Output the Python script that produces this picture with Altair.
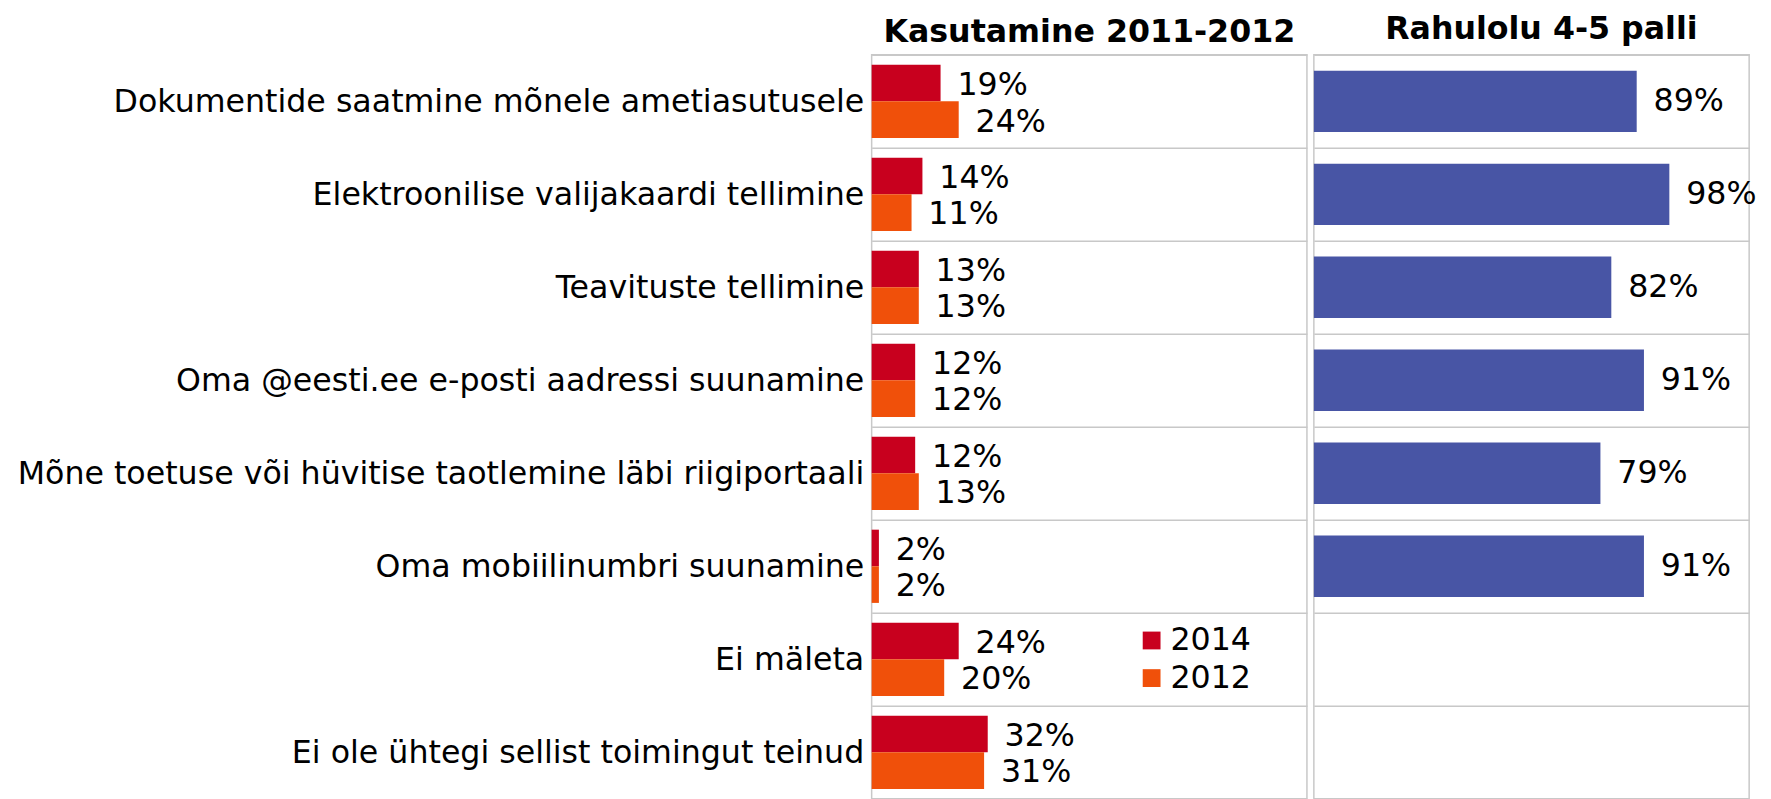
import altair as alt
import pandas as pd

categories = [
    "Dokumentide saatmine mõnele ametiasutusele",
    "Elektroonilise valijakaardi tellimine",
    "Teavituste tellimine",
    "Oma @eesti.ee e-posti aadressi suunamine",
    "Mõne toetuse või hüvitise taotlemine läbi riigiportaali",
    "Oma mobiilinumbri suunamine",
    "Ei mäleta",
    "Ei ole ühtegi sellist toimingut teinud",
]
use_2014 = [19, 14, 13, 12, 12, 2, 24, 32]
use_2012 = [24, 11, 13, 12, 13, 2, 20, 31]
satisfaction = [89, 98, 82, 91, 79, 91, None, None]
years = ["2014", "2012"]
year_colors = ["#C8001E", "#F0500A"]
sat_color = "#4855A5"

FONT = "DejaVu Sans"
FS = 32
W = 440
H = 752
GRID = "#c8c8c8"

rows = []
for c, a, b in zip(categories, use_2014, use_2012):
    rows.append({"cat": c, "year": "2014", "value": a, "label": f"{a}%"})
    rows.append({"cat": c, "year": "2012", "value": b, "label": f"{b}%"})
use_df = pd.DataFrame(rows)

sat_rows = []
for c, s in zip(categories, satisfaction):
    if s is not None:
        sat_rows.append({"cat": c, "value": s, "label": f"{s}%"})
sat_df = pd.DataFrame(sat_rows)

y_scale = alt.Scale(domain=categories, paddingInner=0, paddingOuter=0)
x_scale = alt.Scale(domain=[0, 120])

y_left = alt.Y(
    "cat:N", sort=categories, scale=y_scale,
    axis=alt.Axis(title=None, labelFontSize=FS, labelFont=FONT, labelColor="black",
                  ticks=False, domain=False, labelPadding=8, grid=True, tickBand="extent",
                  gridColor=GRID, gridWidth=1.5, labelLimit=0),
)
yoff = alt.YOffset("year:N", sort=years,
                   scale=alt.Scale(domain=years, paddingOuter=0.27, paddingInner=0))
x_left = alt.X("value:Q", scale=x_scale, axis=None)

left_bars = alt.Chart(use_df).mark_bar().encode(
    y=y_left, yOffset=yoff, x=x_left,
    color=alt.Color("year:N", scale=alt.Scale(domain=years, range=year_colors),
                    legend=alt.Legend(title=None, orient="none", legendX=267, legendY=576,
                                      symbolType="square", symbolSize=324, symbolStrokeWidth=0,
                                      labelFontSize=FS, labelFont=FONT, labelColor="black",
                                      labelOffset=3, rowPadding=6, padding=0)),
)
left_text = alt.Chart(use_df).mark_text(
    align="left", baseline="middle", dx=17, dy=2, fontSize=FS, font=FONT, color="black"
).encode(y=y_left, yOffset=yoff, x=x_left, text="label:N")

left = alt.layer(left_bars, left_text).properties(
    width=W, height=H,
    title=alt.TitleParams("Kasutamine 2011-2012", fontSize=32, font=FONT, fontWeight="bold",
                          anchor="middle", offset=-10, color="black"),
)

y_right = alt.Y(
    "cat:N", sort=categories, scale=y_scale,
    axis=alt.Axis(title=None, labels=False, ticks=False, domain=False, grid=True,
                  tickBand="extent", gridColor=GRID, gridWidth=1.5, minExtent=0),
)
x_right = alt.X("value:Q", scale=x_scale, axis=None)

right_bars = alt.Chart(sat_df).mark_bar(
    height=alt.RelativeBandSize(0.66), color=sat_color
).encode(y=y_right, x=x_right)
right_text = alt.Chart(sat_df).mark_text(
    align="left", baseline="middle", dx=17, fontSize=FS, font=FONT, color="black"
).encode(y=y_right, x=x_right, text="label:N")

right = alt.layer(right_bars, right_text).properties(
    width=W, height=H,
    title=alt.TitleParams("Rahulolu 4-5 palli", fontSize=32, font=FONT, fontWeight="bold",
                          anchor="middle", offset=9, dx=10, color="black"),
)

chart = alt.hconcat(left, right, spacing=5).configure_view(
    stroke=GRID, strokeWidth=1.5
).properties(padding={"left": 8, "top": 0, "right": 5, "bottom": 5})

chart.save("out.html", embed_options={"renderer": "svg", "actions": False})
